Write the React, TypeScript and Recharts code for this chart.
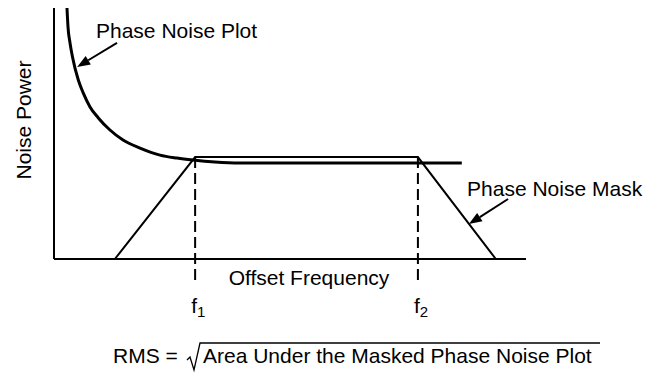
import { ComposedChart, Line, XAxis, YAxis, ReferenceLine } from "recharts";

document.body.style.margin = "0";

// offset frequency (0-100 across the x axis) / noise power (0-100 up the y axis)
const noiseFreq = [2.75, 2.97, 3.39, 3.92, 5.15, 6.21, 7.63, 9.39, 11.86, 14.62, 18.22, 22.46, 26.06, 29.45, 34.1, 39.4, 86.4];
const noisePower = [100, 92.4, 86.1, 80.5, 71.3, 66.1, 60.6, 56.2, 51.4, 47.4, 44.2, 41.4, 40.2, 39.4, 38.6, 38.2, 38.2];
const maskFreq = [12.9, 29.9, 77.1, 93.6];
const maskPower = [0, 40.6, 40.6, 0];
const markerFreqs = [29.9, 77.1];
const markerNames = ["1", "2"];
const markerTop = 40.6;
const markerBottom = -9.6;

const noiseData = noiseFreq.map((u, i) => ({ u, v: noisePower[i] }));
const maskData = maskFreq.map((u, i) => ({ u, v: maskPower[i] }));

const FONT = "'Liberation Sans', Arial, Helvetica, sans-serif";
const INK = "#000";

function Arrow(props: any) {
  const { x1, y1, x2, y2, text, dx, dy } = props;
  const ang = Math.atan2(y2 - y1, x2 - x1);
  const len = 13;
  const half = 5;
  const bx = x2 - len * Math.cos(ang);
  const by = y2 - len * Math.sin(ang);
  const px = -Math.sin(ang) * half;
  const py = Math.cos(ang) * half;
  return (
    <g>
      <line x1={x1} y1={y1} x2={bx} y2={by} stroke={INK} strokeWidth={2} />
      <polygon points={`${x2},${y2} ${bx + px},${by + py} ${bx - px},${by - py}`} fill={INK} />
      <text x={x1 + dx} y={y1 + dy} fontFamily={FONT} fontSize={21} fill={INK}>
        {text}
      </text>
    </g>
  );
}

function Marker(props: any) {
  const { x1, y1, x2, y2, name } = props;
  return (
    <g>
      <line x1={x1} y1={y1} x2={x2} y2={y2} stroke={INK} strokeWidth={2} strokeDasharray="11 5" />
      <text x={x2 - 4} y={y2 + 30} fontFamily={FONT} fontSize={21} fill={INK}>
        f
        <tspan fontSize={15} dy={4}>
          {name}
        </tspan>
      </text>
    </g>
  );
}

function XNotes(props: any) {
  const vb = props.viewBox || { x: 54, y: 259, width: 472 };
  const x = vb.x;
  const y = vb.y;
  return (
    <g fontFamily={FONT} fill={INK}>
      <text x={x + vb.width / 2 + 19} y={y + 26} fontSize={21} textAnchor="middle">
        Offset Frequency
      </text>
      <text x={x + 59} y={y + 104} fontSize={21}>
        RMS =
      </text>
      <path
        d={`M${x + 133},${y + 101} L${x + 136},${y + 98} L${x + 140},${y + 111} L${x + 146},${y + 84} L${x + 546},${y + 84}`}
        fill="none"
        stroke={INK}
        strokeWidth={1.3}
      />
      <text x={x + 149} y={y + 104} fontSize={21}>
        Area Under the Masked Phase Noise Plot
      </text>
    </g>
  );
}

function YTitle(props: any) {
  const vb = props.viewBox || { x: 53, y: 8, width: 1, height: 251 };
  const cx = vb.x + vb.width - 23;
  const cy = vb.y + vb.height / 2 - 13.5;
  return (
    <text
      x={cx}
      y={cy}
      transform={`rotate(-90, ${cx}, ${cy})`}
      textAnchor="middle"
      fontFamily={FONT}
      fontSize={21}
      fill={INK}
    >
      Noise Power
    </text>
  );
}

export default function App() {
  return (
    <div style={{ width: 658, height: 373, background: "#fff" }}>
      <ComposedChart width={658} height={373} margin={{ top: 8, right: 132, bottom: 113, left: 53 }}>
        <XAxis
          type="number"
          dataKey="u"
          domain={[0, 100]}
          height={1}
          tick={false}
          tickLine={false}
          axisLine={{ stroke: INK, strokeWidth: 2 }}
          label={(p: any) => <XNotes {...p} />}
        />
        <YAxis
          type="number"
          dataKey="v"
          domain={[0, 100]}
          width={1}
          tick={false}
          tickLine={false}
          axisLine={{ stroke: INK, strokeWidth: 2 }}
          label={(p: any) => <YTitle {...p} />}
        />
        <Line
          data={maskData}
          dataKey="v"
          type="linear"
          stroke={INK}
          strokeWidth={2}
          dot={false}
          activeDot={false}
          isAnimationActive={false}
        />
        <Line
          data={noiseData}
          dataKey="v"
          type="monotone"
          stroke={INK}
          strokeWidth={3}
          dot={false}
          activeDot={false}
          isAnimationActive={false}
        />
        {markerFreqs.map((f, i) => (
          <ReferenceLine
            key={markerNames[i]}
            segment={[
              { x: f, y: markerTop },
              { x: f, y: markerBottom },
            ]}
            ifOverflow="visible"
            shape={(p: any) => <Marker {...p} name={markerNames[i]} />}
          />
        ))}
        <ReferenceLine
          segment={[
            { x: 13.35, y: 86.1 },
            { x: 4.9, y: 76.5 },
          ]}
          ifOverflow="visible"
          shape={(p: any) => <Arrow {...p} text="Phase Noise Plot" dx={-21} dy={-5} />}
        />
        <ReferenceLine
          segment={[
            { x: 96.2, y: 23.9 },
            { x: 87.9, y: 13.9 },
          ]}
          ifOverflow="visible"
          shape={(p: any) => <Arrow {...p} text="Phase Noise Mask" dx={-41} dy={-3} />}
        />
      </ComposedChart>
    </div>
  );
}
